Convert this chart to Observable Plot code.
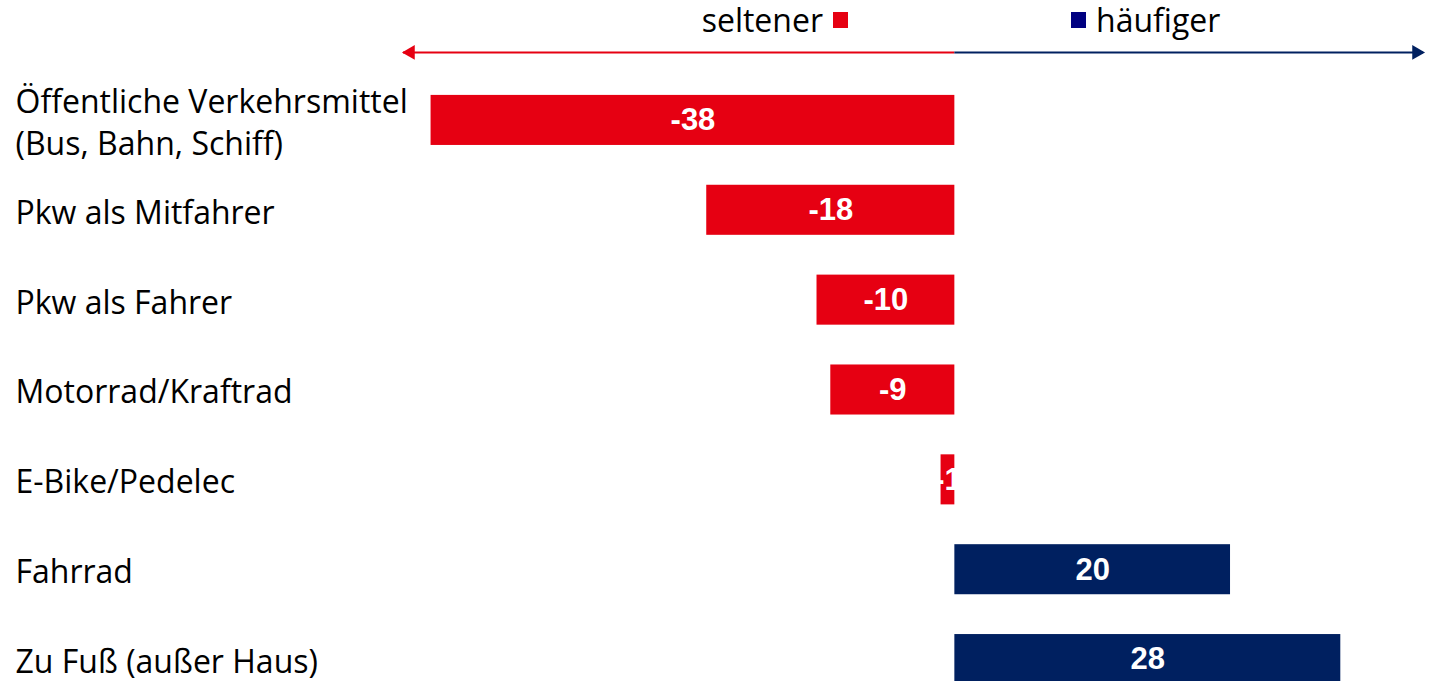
<!DOCTYPE html>
<html><head><meta charset="utf-8">
<script src="https://cdn.jsdelivr.net/npm/d3@7"></script>
<script src="https://cdn.jsdelivr.net/npm/@observablehq/plot@0.6"></script>
<style>
html,body{margin:0;padding:0;background:#fff;overflow:hidden;}
#legend{position:relative;height:40px;width:1430px;font-family:"Open Sans",sans-serif;font-size:32px;color:#000;}
#legend .item{position:absolute;top:0;line-height:40px;white-space:nowrap;display:flex;align-items:center;gap:10px;}
#legend .sw{display:inline-block;width:15px;height:16px;}
</style></head><body>
<div id="legend"></div>
<div id="chart"></div>
<script>
const categories = [
  "Öffentliche Verkehrsmittel\n(Bus, Bahn, Schiff)",
  "Pkw als Mitfahrer",
  "Pkw als Fahrer",
  "Motorrad/Kraftrad",
  "E-Bike/Pedelec",
  "Fahrrad",
  "Zu Fuß (außer Haus)"
];
const values = [-38, -18, -10, -9, -1, 20, 28];
const valueLabels = ["-38", "-18", "-10", "-9", "-1", "20", "28"];
const legendLabels = ["seltener", "häufiger"];
const arrowExtent = [-40, 34];

const RED = "#E60012", NAVY = "#002060", LEG_NAVY = "#000080";

const data = categories.map((c, i) => ({cat: c, value: values[i], label: valueLabels[i]}));

// legend (HTML, above the SVG)
const leg = document.getElementById("legend");
leg.innerHTML =
  `<div class="item" style="right:${1430-848}px">${legendLabels[0]}<span class="sw" style="background:${RED}"></span></div>` +
  `<div class="item" style="left:1071px"><span class="sw" style="background:${LEG_NAVY}"></span>${legendLabels[1]}</div>`;

const chart = Plot.plot({
  width: 1430,
  height: 664,
  marginTop: 35,
  marginBottom: 0,
  marginLeft: 403,
  marginRight: 7,
  x: {domain: arrowExtent, axis: null},
  y: {domain: categories, axis: null, paddingInner: 0.443, paddingOuter: 0.2215, round: false},
  style: {background: "#fff"},
  marks: [
    Plot.barX(data, {x: "value", y: "cat", fill: d => d.value < 0 ? RED : NAVY}),
    Plot.text(data, {x: d => d.value / 2, y: "cat", text: "label", fill: "#fff",
      fontWeight: "bold", fontSize: 31, fontFamily: "Liberation Sans, Arial, sans-serif"}),
    Plot.text(data, {y: "cat", text: "cat", frameAnchor: "left", textAnchor: "start", dx: -388,
      fontSize: 32, lineHeight: 1.31, fill: "#000", fontFamily: "Open Sans, sans-serif"}),
    // double arrow above the bars
    Plot.ruleY([categories[0]], {x1: 0, x2: arrowExtent[0], stroke: RED, strokeWidth: 2, dy: -68}),
    Plot.ruleY([categories[0]], {x1: 0, x2: arrowExtent[1], stroke: NAVY, strokeWidth: 2, dy: -68}),
    Plot.dot([categories[0]], {x: arrowExtent[0], y: d => d, symbol: "triangle", r: 5.5, fill: RED, rotate: -90, dy: -68, dx: 7}),
    Plot.dot([categories[0]], {x: arrowExtent[1], y: d => d, symbol: "triangle", r: 5.5, fill: NAVY, rotate: 90, dy: -68, dx: -7})
  ]
});
document.getElementById("chart").appendChild(chart);
</script>
</body></html>
